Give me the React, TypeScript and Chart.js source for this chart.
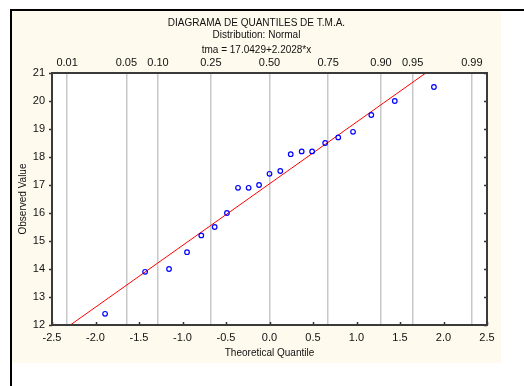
import { useEffect, useRef } from "react";
import { Chart, registerables } from "chart.js";

Chart.register(...registerables);

const titleLines = ["DIAGRAMA DE QUANTILES DE T.M.A.", "Distribution: Normal", "tma = 17.0429+2.2028*x"];
const xAxisTitle = "Theoretical Quantile";
const yAxisTitle = "Observed Value";

const theoreticalQuantiles = [
  -1.89, -1.43, -1.155, -0.948, -0.784, -0.63, -0.489, -0.362, -0.24, -0.12, 0,
  0.124, 0.244, 0.37, 0.49, 0.64, 0.79, 0.96, 1.17, 1.44, 1.89,
];
const observedValues = [
  12.4, 13.9, 14.0, 14.6, 15.2, 15.5, 16.0, 16.9, 16.9, 17.0, 17.4,
  17.5, 18.1, 18.2, 18.2, 18.5, 18.7, 18.9, 19.5, 20.0, 20.5,
];
const fitIntercept = 17.0429;
const fitSlope = 2.2028;
const fitX = [-2.5, 2.5];

const probLabels = ["0.01", "0.05", "0.10", "0.25", "0.50", "0.75", "0.90", "0.95", "0.99"];
const probQuantiles = [-2.326, -1.645, -1.282, -0.674, 0, 0.674, 1.282, 1.645, 2.326];
const xTicks = [-2.5, -2.0, -1.5, -1.0, -0.5, 0, 0.5, 1.0, 1.5, 2.0, 2.5];
const yTicks = [12, 13, 14, 15, 16, 17, 18, 19, 20, 21];

const FONT = "'Liberation Sans', Arial, sans-serif";

const decorPlugin = {
  id: "decor",
  beforeDraw(chart: any) {
    const ctx = chart.ctx;
    ctx.save();
    ctx.fillStyle = "#ffffff";
    ctx.fillRect(0, 0, chart.width, chart.height);
    ctx.fillStyle = "#fffaee";
    ctx.fillRect(12, 11, 489, 352);
    ctx.fillStyle = "#000000";
    ctx.fillRect(10, 9, 2, chart.height - 9);
    ctx.fillRect(10, 9, chart.width - 10, 2);
    const a = chart.chartArea;
    ctx.fillStyle = "#ffffff";
    ctx.fillRect(a.left, a.top, a.right - a.left, a.bottom - a.top);
    ctx.restore();
  },
  afterDraw(chart: any) {
    const ctx = chart.ctx;
    const a = chart.chartArea;
    const xs = chart.scales.x;
    const ys = chart.scales.y;
    ctx.save();
    ctx.strokeStyle = "#333333";
    ctx.lineWidth = 1.5;
    ctx.beginPath();
    for (const v of yTicks) {
      const py = Math.round(ys.getPixelForValue(v)) + 0.5;
      ctx.moveTo(a.left - 3, py);
      ctx.lineTo(a.left, py);
      ctx.moveTo(a.right - 3, py);
      ctx.lineTo(a.right, py);
    }
    for (const v of xTicks) {
      const px = Math.round(xs.getPixelForValue(v)) + 0.5;
      ctx.moveTo(px, a.bottom);
      ctx.lineTo(px, a.bottom - 3);
    }
    ctx.stroke();
    ctx.lineWidth = 2;
    ctx.strokeStyle = "#3a3a3a";
    ctx.strokeRect(a.left, a.top, a.right - a.left, a.bottom - a.top);

    ctx.fillStyle = "#111111";
    ctx.textAlign = "center";
    ctx.textBaseline = "middle";
    ctx.font = "10px " + FONT;
    const ty = [23.5, 35.5, 50.5];
    titleLines.forEach((t, i) => ctx.fillText(t, 256.5, ty[i]));
    ctx.fillText(xAxisTitle, (a.left + a.right) / 2, 353);
    ctx.translate(23, (a.top + a.bottom) / 2);
    ctx.rotate(-Math.PI / 2);
    ctx.fillText(yAxisTitle, 0, 0);
    ctx.restore();
  },
};

export default function App() {
  const ref = useRef<HTMLCanvasElement | null>(null);
  useEffect(() => {
    if (!ref.current) return;
    const tickFont = { family: FONT, size: 11 };
    const chart = new Chart(ref.current, {
      type: "scatter",
      data: {
        datasets: [
          {
            type: "scatter",
            data: theoreticalQuantiles.map((x, i) => ({ x, y: observedValues[i] })),
            pointStyle: "circle",
            pointRadius: 2.3,
            pointBorderWidth: 1.2,
            pointBorderColor: "#0000ff",
            pointBackgroundColor: "rgba(0,0,0,0)",
            order: 0,
          } as any,
          {
            type: "line",
            data: fitX.map((x) => ({ x, y: fitIntercept + fitSlope * x })),
            borderColor: "#ff0000",
            borderWidth: 1,
            pointRadius: 0,
            fill: false,
            order: 1,
          } as any,
        ],
      },
      options: {
        animation: false,
        responsive: false,
        devicePixelRatio: 1,
        layout: { padding: { left: 0, top: 0, right: 37, bottom: 0 } },
        plugins: { legend: { display: false }, tooltip: { enabled: false }, title: { display: false } },
        scales: {
          x: {
            type: "linear",
            position: "bottom",
            min: -2.5,
            max: 2.5,
            afterBuildTicks: (s: any) => { s.ticks = xTicks.map((value) => ({ value })); },
            afterFit: (s: any) => { s.height = 61; },
            ticks: {
              autoSkip: false,
              maxRotation: 0,
              padding: 6,
              color: "#111",
              font: tickFont,
              callback: (v: any) => Number(v).toFixed(1),
            },
            grid: { display: false, drawTicks: false },
            border: { display: false },
          },
          x2: {
            type: "linear",
            position: "top",
            min: -2.5,
            max: 2.5,
            afterBuildTicks: (s: any) => { s.ticks = probQuantiles.map((value) => ({ value })); },
            afterFit: (s: any) => { s.height = 73; },
            ticks: {
              autoSkip: false,
              maxRotation: 0,
              padding: 3,
              color: "#111",
              font: tickFont,
              callback: (_v: any, i: number) => probLabels[i],
            },
            grid: { display: true, drawOnChartArea: true, drawTicks: false, color: "#c8c8c8", lineWidth: 1.5 },
            border: { display: false },
          },
          y: {
            type: "linear",
            position: "left",
            min: 12,
            max: 21,
            afterBuildTicks: (s: any) => { s.ticks = yTicks.map((value) => ({ value })); },
            afterFit: (s: any) => { s.width = 52; },
            ticks: {
              autoSkip: false,
              padding: 7,
              color: "#111",
              font: tickFont,
              callback: (v: any) => String(v),
            },
            grid: { display: false, drawTicks: false },
            border: { display: false },
          },
        },
      } as any,
      plugins: [decorPlugin],
    });
    return () => chart.destroy();
  }, []);
  return (
    <div style={{ position: "absolute", left: 0, top: 0, width: 524, height: 386 }}>
      <canvas ref={ref} width={524} height={386} style={{ display: "block", width: 524, height: 386 }} />
    </div>
  );
}
